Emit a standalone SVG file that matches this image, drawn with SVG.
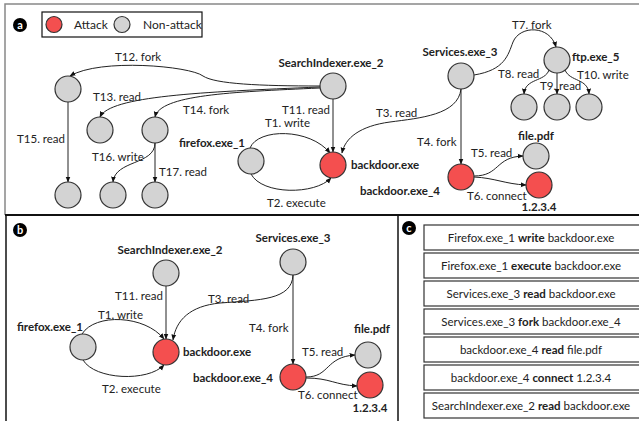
<svg xmlns="http://www.w3.org/2000/svg" width="639" height="421" viewBox="0 0 639 421">
<defs>
<marker id="ah" viewBox="0 0 10 10" refX="9" refY="5" markerWidth="6" markerHeight="6" orient="auto" markerUnits="userSpaceOnUse"><path d="M0,1 L10,5 L0,9 z" fill="#111"/></marker>
<style>
text{font-family:Lato,"Open Sans","Liberation Sans",sans-serif;fill:#222}
.t{font-size:11.5px}
.b{font-size:11.5px;font-weight:bold}
.g{fill:#d3d3d3;stroke:#333;stroke-width:1.2}
.r{fill:#f44f4f;stroke:#333;stroke-width:1.2}
.e{fill:none;stroke:#222;stroke-width:1;marker-end:url(#ah)}
.badge{fill:#000}
.bt{font-size:11px;font-weight:bold;fill:#fff;text-anchor:middle}
.box{fill:#fff;stroke:#333;stroke-width:1.2}
.c{font-size:11.5px;text-anchor:middle}
</style>
</defs>
<rect width="639" height="421" fill="#fff"/>
<!-- panel borders -->
<g id="panels">
<path d="M645,4 L5,4 L5,215" fill="none" stroke="#888" stroke-width="1.5"/>
<path d="M5,215 L645,215" stroke="#111" stroke-width="2"/>
<path d="M6,215 L6,425" stroke="#111" stroke-width="1.5"/>
<path d="M398,215 L398,425" stroke="#111" stroke-width="1.5"/>
</g>
<!-- badges -->
<g id="badge-a"><circle cx="20" cy="25" r="7" class="badge"/><text x="20" y="29" class="bt">a</text></g>
<g id="badge-b"><circle cx="20" cy="230" r="7" class="badge"/><text x="20" y="234" class="bt">b</text></g>
<g id="badge-c"><circle cx="409" cy="228" r="7" class="badge"/><text x="409" y="232" class="bt">c</text></g>
<!-- legend -->
<g id="legend">
<rect x="42" y="12" width="160" height="25" fill="#fff" stroke="#111" stroke-width="1.2"/>
<circle cx="54" cy="24.5" r="8" class="r"/>
<text x="74" y="29" style="font-size:12px">Attack</text>
<circle cx="122" cy="24.5" r="8" class="g"/>
<text x="143" y="29" style="font-size:12px">Non-attack</text>
</g>
<!-- panel a connectors -->
<g id="edges-a">
<path class="e" d="M320,86 C260,86 215,84 203,76 C190,66 100,58 70,76"/>
<path class="e" d="M320,87 C200,92 110,96 100,117"/>
<path class="e" d="M320,88 C230,92 160,95 155,117"/>
<path class="e" d="M68,102 L68,182"/>
<path class="e" d="M155,143 C155,165 115,160 113,182"/>
<path class="e" d="M155,143 L155,182"/>
<path class="e" d="M333,99 L333,152"/>
<path class="e" d="M250,148 C258,128 310,128 330,153"/>
<path class="e" d="M251,174 C262,195 315,195 331,178"/>
<path class="e" d="M461,89 C458,115 420,118 390,122 C360,126 345,138 342,153"/>
<path class="e" d="M461,89 L461,164"/>
<path class="e" d="M474,176 C500,176 495,157 523,156"/>
<path class="e" d="M474,177 C495,178 505,184 526,185"/>
<path class="e" d="M474,75 C505,70 508,55 513,42 C520,25 550,25 556,47"/>
<path class="e" d="M549,70 C545,82 525,78 524,94"/>
<path class="e" d="M557,73 L557,94"/>
<path class="e" d="M565,70 C570,82 588,78 589,94"/>
</g>
<!-- panel a edge labels -->
<g id="labels-a">
<text class="t" x="115" y="61">T12. fork</text>
<text class="t" x="93" y="101">T13. read</text>
<text class="t" x="183" y="114">T14. fork</text>
<text class="t" x="17" y="143">T15. read</text>
<text class="t" x="92" y="161">T16. write</text>
<text class="t" x="159" y="176">T17. read</text>
<text class="t" x="282" y="114">T11. read</text>
<text class="t" x="265" y="127">T1. write</text>
<text class="t" x="267" y="207">T2. execute</text>
<text class="t" x="376" y="117">T3. read</text>
<text class="t" x="417" y="146">T4. fork</text>
<text class="t" x="512" y="29">T7. fork</text>
<text class="t" x="498" y="78">T8. read</text>
<text class="t" x="540" y="90">T9. read</text>
<text class="t" x="577" y="79">T10. write</text>
<text class="t" x="471" y="157">T5. read</text>
<text class="t" x="467" y="200">T6. connect</text>
</g>
<!-- panel a nodes -->
<g id="a-n1"><circle cx="68" cy="89" r="13" class="g"/></g>
<g id="a-n2"><circle cx="100" cy="130" r="13" class="g"/></g>
<g id="a-n3"><circle cx="155" cy="130" r="13" class="g"/></g>
<g id="a-n4"><circle cx="68" cy="195" r="13" class="g"/></g>
<g id="a-n5"><circle cx="113" cy="195" r="13" class="g"/></g>
<g id="a-n6"><circle cx="155" cy="195" r="13" class="g"/></g>
<g id="a-firefox"><circle cx="251" cy="161" r="13" class="g"/><text class="b" x="245" y="147" text-anchor="end">firefox.exe_1</text></g>
<g id="a-search"><circle cx="333" cy="86" r="13" class="g"/><text class="b" x="331" y="67" text-anchor="middle">SearchIndexer.exe_2</text></g>
<g id="a-backdoor"><circle cx="333" cy="165" r="13" class="r"/><text class="b" x="351" y="169">backdoor.exe</text></g>
<g id="a-services"><circle cx="461" cy="76" r="13" class="g"/><text class="b" x="460" y="56" text-anchor="middle">Services.exe_3</text></g>
<g id="a-ftp"><circle cx="557" cy="60" r="13" class="g"/><text class="b" x="572" y="61">ftp.exe_5</text></g>
<g id="a-ftp-c1"><circle cx="524" cy="107" r="13" class="g"/></g>
<g id="a-ftp-c2"><circle cx="557" cy="107" r="13" class="g"/></g>
<g id="a-ftp-c3"><circle cx="589" cy="107" r="13" class="g"/></g>
<g id="a-backdoor4"><circle cx="461" cy="177" r="13" class="r"/><text class="b" x="440" y="195" text-anchor="end">backdoor.exe_4</text></g>
<g id="a-file"><circle cx="536" cy="156" r="13" class="g"/><text class="b" x="536" y="140" text-anchor="middle">file.pdf</text></g>
<g id="a-ip"><circle cx="539" cy="185" r="13" class="r"/><text class="b" x="539" y="211" text-anchor="middle">1.2.3.4</text></g>
<!-- panel b connectors -->
<g id="edges-b">
<path class="e" d="M166,286 L166,339"/>
<path class="e" d="M82,334 C95,313 145,315 164,339"/>
<path class="e" d="M83,360 C95,380 148,382 164,365"/>
<path class="e" d="M293,275 C292,300 260,300 220,303 C190,306 176,320 173,340"/>
<path class="e" d="M293,275 L293,364"/>
<path class="e" d="M306,377 C330,377 325,357 355,355"/>
<path class="e" d="M306,378 C330,378 335,385 357,386"/>
</g>
<g id="labels-b">
<text class="t" x="115" y="300">T11. read</text>
<text class="t" x="208" y="303">T3. read</text>
<text class="t" x="98" y="319">T1. write</text>
<text class="t" x="249" y="332">T4. fork</text>
<text class="t" x="302" y="356">T5. read</text>
<text class="t" x="298" y="399">T6. connect</text>
<text class="t" x="102" y="393">T2. execute</text>
</g>
<g id="b-search"><circle cx="166" cy="273" r="13" class="g"/><text class="b" x="170" y="254" text-anchor="middle">SearchIndexer.exe_2</text></g>
<g id="b-services"><circle cx="293" cy="262" r="13" class="g"/><text class="b" x="293" y="242" text-anchor="middle">Services.exe_3</text></g>
<g id="b-firefox"><circle cx="83" cy="347" r="13" class="g"/><text class="b" x="83" y="331" text-anchor="end">firefox.exe_1</text></g>
<g id="b-backdoor"><circle cx="166" cy="352" r="13" class="r"/><text class="b" x="183" y="356">backdoor.exe</text></g>
<g id="b-backdoor4"><circle cx="293" cy="377" r="13" class="r"/><text class="b" x="273" y="382" text-anchor="end">backdoor.exe_4</text></g>
<g id="b-file"><circle cx="368" cy="355" r="13" class="g"/><text class="b" x="372" y="333" text-anchor="middle">file.pdf</text></g>
<g id="b-ip"><circle cx="370" cy="385" r="13" class="r"/><text class="b" x="370" y="412" text-anchor="middle">1.2.3.4</text></g>
<!-- panel c -->
<g id="c-1"><rect class="box" x="424" y="225" width="220" height="25"/><text class="c" x="531" y="241.5">Firefox.exe_1 <tspan font-weight="bold">write</tspan> backdoor.exe</text></g>
<g id="c-2"><rect class="box" x="424" y="253" width="220" height="25"/><text class="c" x="531" y="269.5">Firefox.exe_1 <tspan font-weight="bold">execute</tspan> backdoor.exe</text></g>
<g id="c-3"><rect class="box" x="424" y="281" width="220" height="25"/><text class="c" x="531" y="297.5">Services.exe_3 <tspan font-weight="bold">read</tspan> backdoor.exe</text></g>
<g id="c-4"><rect class="box" x="424" y="309" width="220" height="25"/><text class="c" x="531" y="325.5">Services.exe_3 <tspan font-weight="bold">fork</tspan> backdoor.exe_4</text></g>
<g id="c-5"><rect class="box" x="424" y="337" width="220" height="25"/><text class="c" x="531" y="353.5">backdoor.exe_4 <tspan font-weight="bold">read</tspan> file.pdf</text></g>
<g id="c-6"><rect class="box" x="424" y="365" width="220" height="25"/><text class="c" x="531" y="381.5">backdoor.exe_4 <tspan font-weight="bold">connect</tspan> 1.2.3.4</text></g>
<g id="c-7"><rect class="box" x="424" y="393" width="220" height="25"/><text class="c" x="531" y="409.5">SearchIndexer.exe_2 <tspan font-weight="bold">read</tspan> backdoor.exe</text></g>
</svg>
